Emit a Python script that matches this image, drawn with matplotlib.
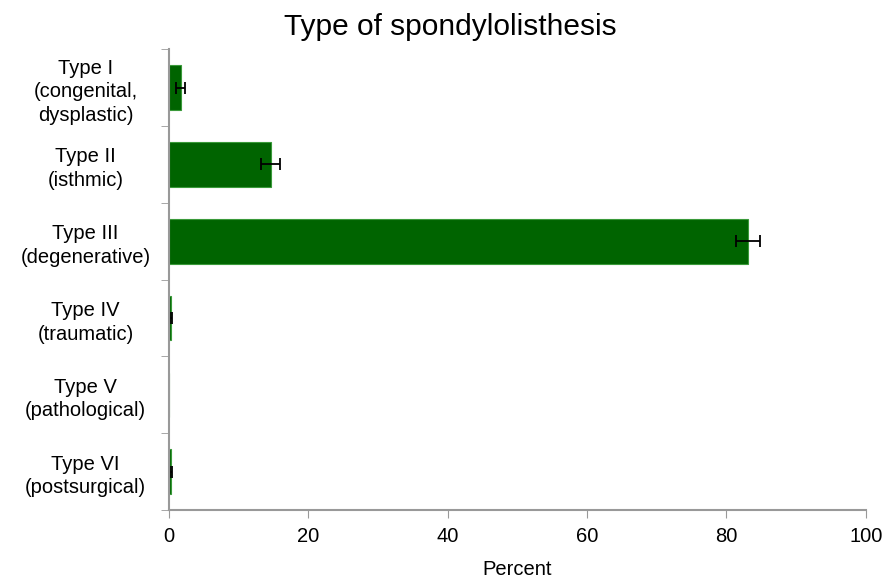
import matplotlib
matplotlib.use("Agg")
import matplotlib.pyplot as plt
import numpy as np

plt.rcParams['font.family'] = ['Liberation Sans', 'DejaVu Sans']

categories = ["Type I\n(congenital,\ndysplastic)", "Type II\n(isthmic)", "Type III\n(degenerative)",
              "Type IV\n(traumatic)", "Type V\n(pathological)", "Type VI\n(postsurgical)"]
values = [1.7, 14.6, 83.1, 0.3, 0.0, 0.3]
errors = [0.65, 1.4, 1.7, 0.2, 0.0, 0.2]
xticks = [0, 20, 40, 60, 80, 100]

fig = plt.figure(figsize=(8.89, 5.79), dpi=100)
ax = fig.add_axes([0.190, 0.119, 0.784, 0.796])

y = np.arange(len(categories))
ax.barh(y, values, height=0.58, color='#006400', edgecolor='#3a9a3a', linewidth=0.8,
        xerr=errors, error_kw=dict(ecolor='black', elinewidth=1.3, capsize=4, capthick=1.3))

ax.set_ylim(len(categories) - 0.5, -0.5)
ax.set_xlim(0, 100)
ax.set_yticks(y)
ax.set_yticklabels(categories, multialignment='center', ha='center', fontsize=14.5,
                   linespacing=1.3)
ax.tick_params(axis='y', length=0, pad=60)
ax.set_yticks(np.arange(-0.5, len(categories), 1.0), minor=True)
ax.tick_params(axis='y', which='minor', length=6, color='#999999', direction='out')
ax.set_xticks(xticks)
ax.tick_params(axis='x', labelsize=14.5, length=6, color='#999999', direction='out', pad=6)

for s in ['top', 'right']:
    ax.spines[s].set_visible(False)
for s in ['left', 'bottom']:
    ax.spines[s].set_color('#999999')
    ax.spines[s].set_linewidth(1.5)

ax.set_xlabel("Percent", fontsize=14.5, labelpad=10)
fig.text(0.507, 1 - 35 / 579, "Type of spondylolisthesis", fontsize=21.5,
         ha='center', va='baseline')

fig.savefig("out.png", dpi=100)
